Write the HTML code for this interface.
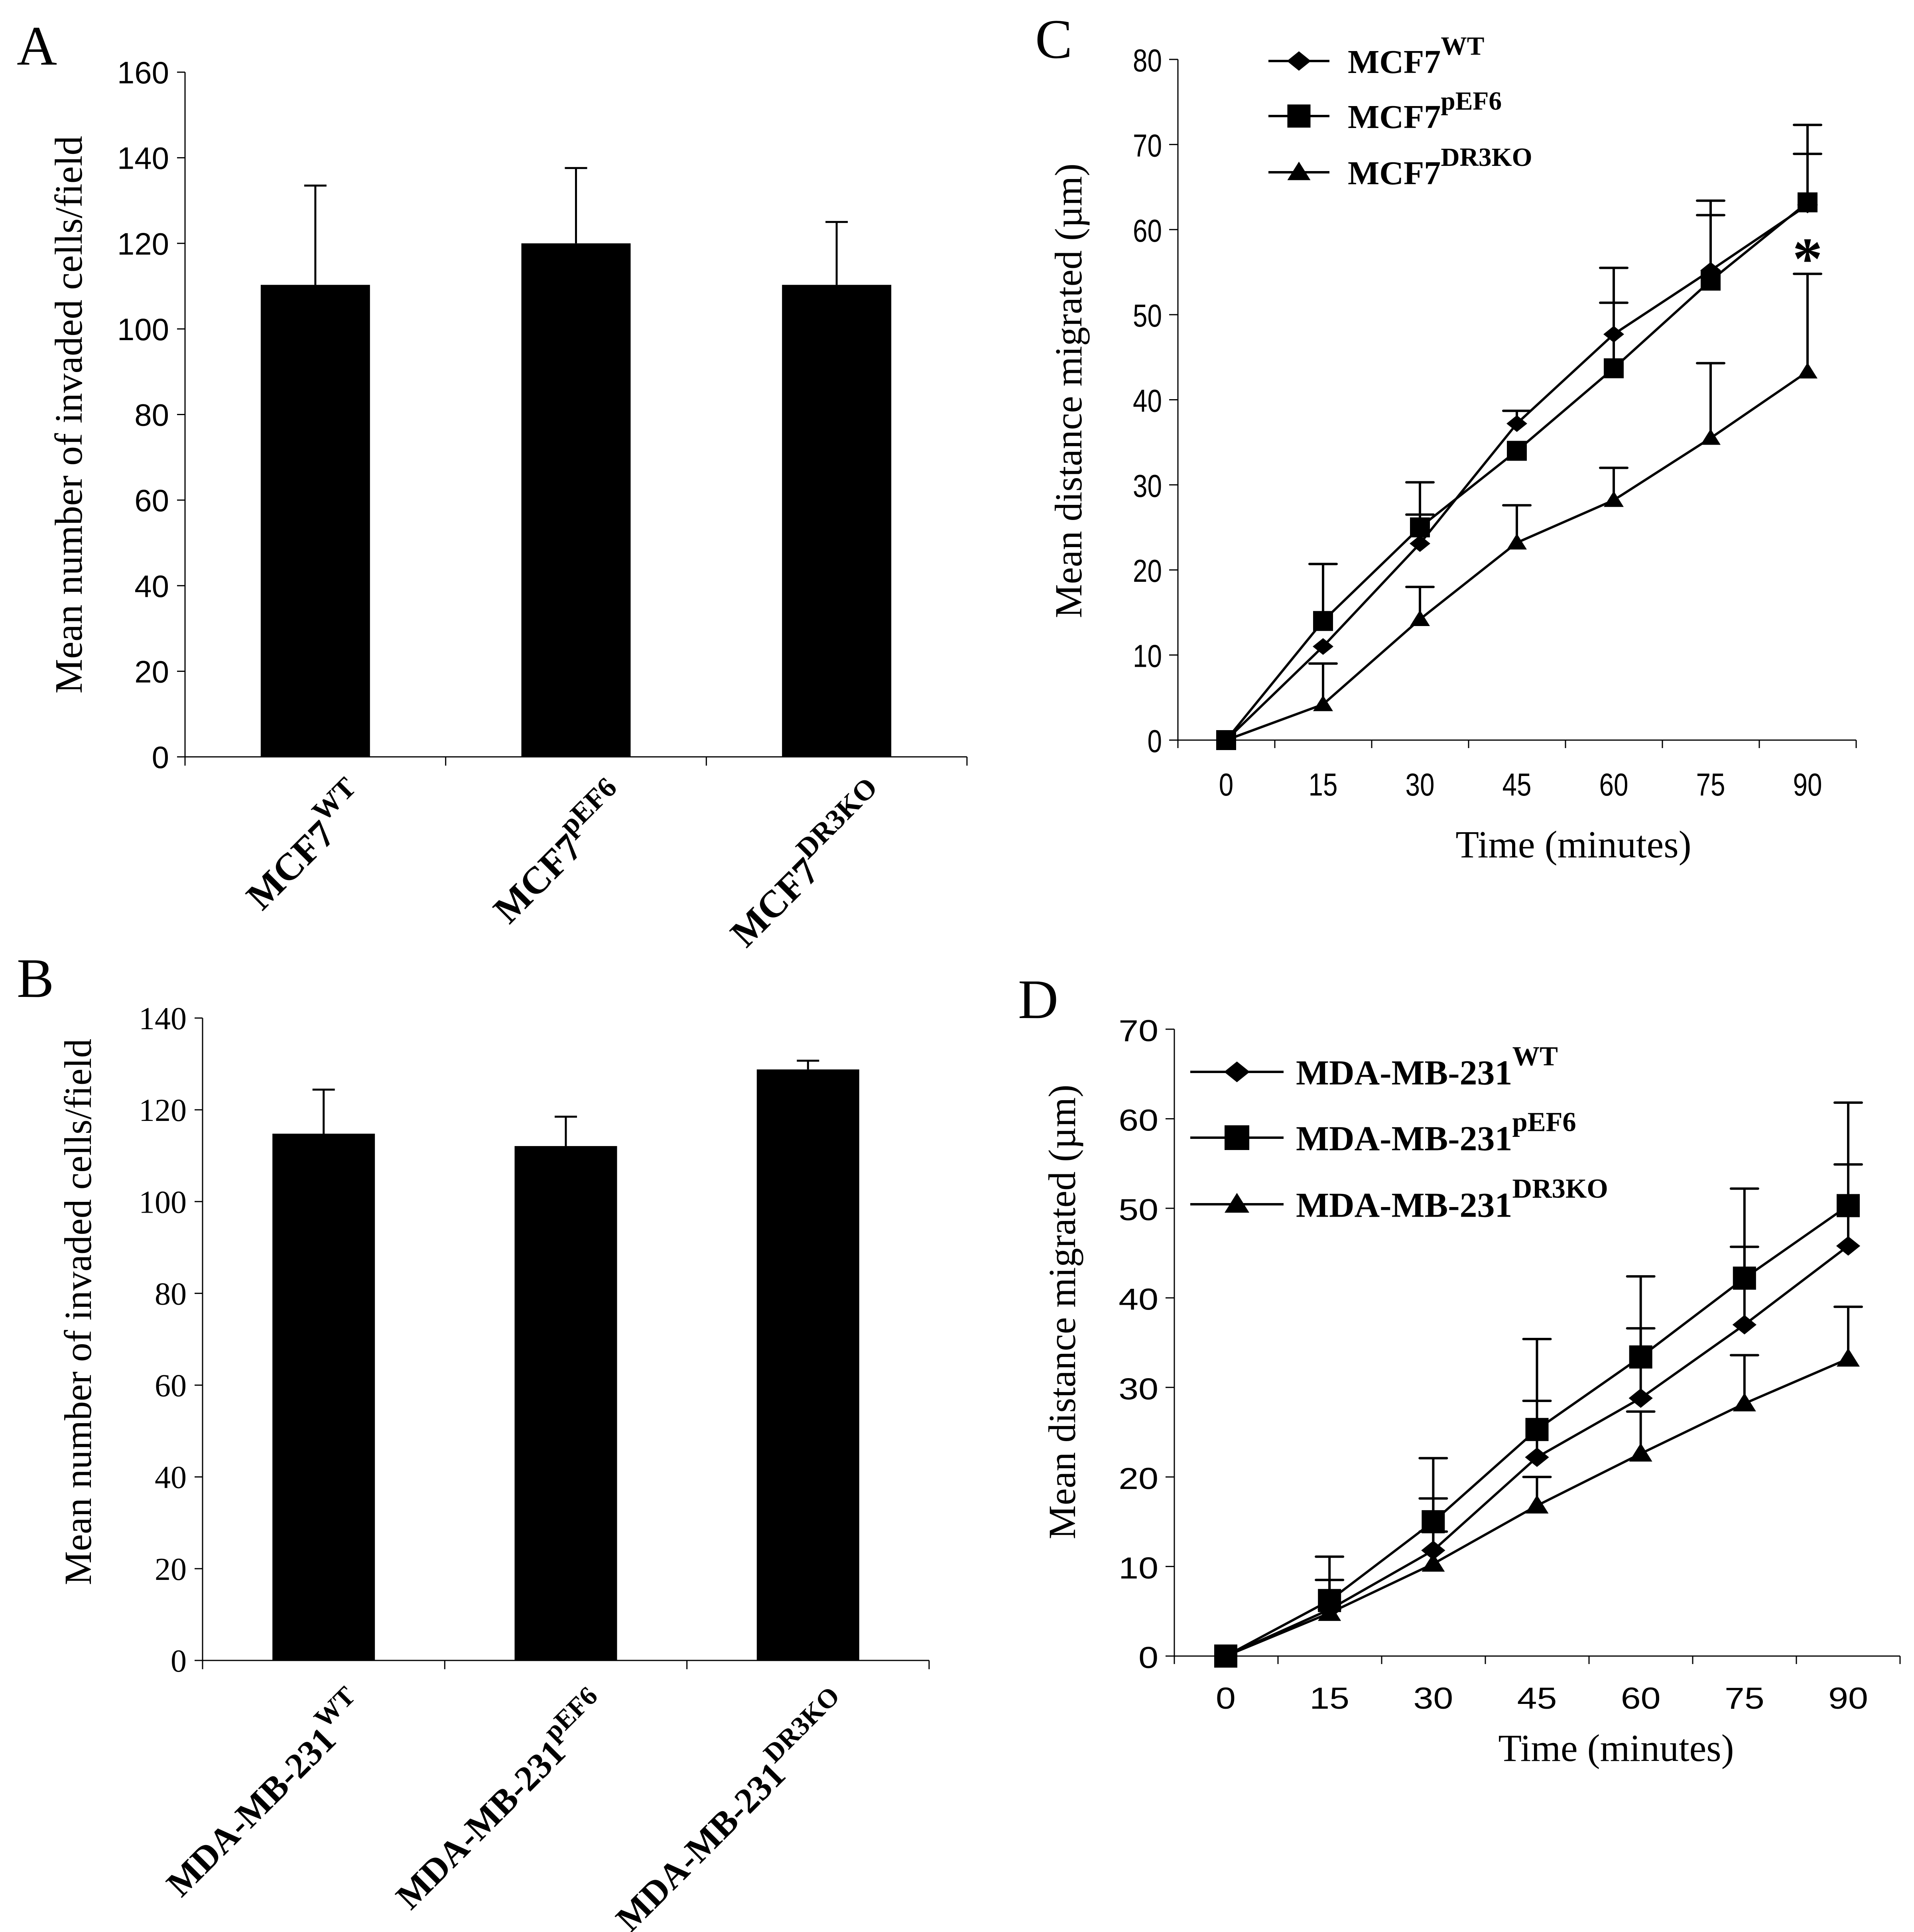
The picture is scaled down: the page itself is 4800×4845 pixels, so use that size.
<!DOCTYPE html>
<html><head><meta charset="utf-8"><style>
html,body{margin:0;padding:0;background:#fff}
svg{display:block}
.serif{font-family:"Liberation Serif",serif}
.sans{font-family:"Liberation Sans",sans-serif}
</style></head>
<body>
<svg id="fig" width="4800" height="4845" viewBox="0 0 4800 4845" xmlns="http://www.w3.org/2000/svg">
<rect width="4800" height="4845" fill="#fff"/>
<g id="root"></g>
</svg>
<script>
// ---- Panel A data ----
const aCats = ["WT","pEF6","DR3KO"];
const aVals = [110.3, 120, 110.3];
const aErr = [133.5, 137.6, 125];
const aTicks = [0,20,40,60,80,100,120,140,160];
// ---- Panel B data ----
const bCats = ["WT","pEF6","DR3KO"];
const bVals = [114.8, 112.1, 128.8];
const bErr = [124.4, 118.5, 130.7];
const bTicks = [0,20,40,60,80,100,120,140];
// ---- Panel C data ----
const cTimes = [0,15,30,45,60,75,90];
const cTicks = [0,10,20,30,40,50,60,70,80];
const cWT = [0,11,23.1,37.2,47.7,55.2,62.9];
const cWTerr = [null,null,26.5,38.7,55.5,63.4,72.3];
const cPEF = [0,14,25,34,43.7,54,63.2];
const cPEFerr = [null,20.7,30.3,null,51.4,61.7,68.9];
const cDR = [0,4.2,14.2,23.2,28.2,35.5,43.3];
const cDRerr = [null,9,18,27.6,32,44.3,54.8];
// ---- Panel D data ----
const dTimes = [0,15,30,45,60,75,90];
const dTicks = [0,10,20,30,40,50,60,70];
const dWT = [0,5.2,11.8,22.2,28.8,37,45.8];
const dWTerr = [null,8.5,17.6,28.5,36.6,45.7,54.9];
const dPEF = [0,6.2,15,25.3,33.4,42.2,50.3];
const dPEFerr = [null,11.1,22.1,35.4,42.4,52.2,61.8];
const dDR = [0,4.8,10.3,16.8,22.6,28.2,33.2];
const dDRerr = [null,null,13.9,20,27.3,33.6,39];

const NS="http://www.w3.org/2000/svg";
const root=document.getElementById('root');
function el(tag,attrs,parent){const e=document.createElementNS(NS,tag);for(const k in attrs)e.setAttribute(k,attrs[k]);(parent||root).appendChild(e);return e;}
function line(x1,y1,x2,y2,w,p){return el('line',{x1,y1,x2,y2,stroke:'#000','stroke-width':w,'stroke-linecap':'butt'},p);}

// ---------- Bar panels ----------
function barPanel(o){
  const g=el('g',{});
  
  
  const y=v=>o.y0-(v/o.ymax)*(o.y0-o.ytop);
  const L=el('text',{x:o.lx,y:o.ly,'font-size':140,class:'serif'},g);L.textContent=o.letter;
  
  line(o.ax,o.ytop,o.ax,o.y0,3,g);
  line(o.ax-18,o.y0,o.xend,o.y0,3,g);
  o.ticks.forEach(t=>{
    line(o.ax-20,y(t),o.ax,y(t),3,g);
    const tx=el('text',{x:o.ax-40,y:y(t)+28,'text-anchor':'end','font-size':o.tickSize,class:o.tickFont},g);
    tx.textContent=t;
    
    
  });
  const n=o.cats.length, cw=(o.xend-o.ax)/n;
  for(let i=0;i<=n;i++){line(o.ax+i*cw,o.y0,o.ax+i*cw,o.y0+22,3,g);}
  o.cats.forEach((c,i)=>{
    const cx=o.ax+cw*(i+0.5);
    const bw=o.bw;
    const r=el('rect',{x:cx-bw/2,y:y(o.vals[i]),width:bw,height:o.y0-y(o.vals[i]),fill:'#000'},g);
    
    
    line(cx,y(o.err[i]),cx,y(o.vals[i]),5,g);
    const cap=line(cx-28,y(o.err[i]),cx+28,y(o.err[i]),5,g);
    
    
    const ax=cx+o.lblDx, ay=o.y0+o.lblDy;
    const t=el('text',{x:ax,y:ay,'text-anchor':'end','font-size':o.lblSize,'font-weight':'bold',class:'serif',transform:`rotate(-45 ${ax} ${ay})`},g);
    
    
    const t1=el('tspan',{},t);t1.textContent=o.prefix;
    const t2=el('tspan',{dy:-o.lblSize*0.5,'font-size':o.lblSize*0.75},t);t2.textContent=c;
  });
  const yt=el('text',{x:o.ytx,y:o.yty,'text-anchor':'middle','font-size':o.ytSize,class:'serif',transform:`rotate(-90 ${o.ytx} ${o.yty})`},g);
  yt.textContent='Mean number of invaded cells/field';
  
  
}
barPanel({name:'panel-a',letter:'A',lx:42,ly:162,ax:464,ytop:181,y0:1898,xend:2425,ymax:160,ticks:aTicks,cats:aCats,vals:aVals,err:aErr,bw:274,
  tickSize:78,tickFont:'sans',prefix:'MCF7',lblSize:96,lblDx:140,lblDy:115,ytx:205,yty:1040,ytSize:98});
barPanel({name:'panel-b',letter:'B',lx:42,ly:2500,ax:508,ytop:2553,y0:4164,xend:2330,ymax:140,ticks:bTicks,cats:bCats,vals:bVals,err:bErr,bw:257,
  tickSize:80,tickFont:'serif',prefix:'MDA-MB-231',lblSize:90,lblDx:115,lblDy:125,ytx:228,yty:3290,ytSize:96});

// ---------- Line panels ----------
function marker(type,x,y,s,g){
  let m;
  if(type==='sq') m=el('rect',{x:x-s/2,y:y-s/2,width:s,height:s,fill:'#000'},g);
  else if(type==='di') m=el('polygon',{points:`${x-s*0.52},${y} ${x},${y-s*0.42} ${x+s*0.52},${y} ${x},${y+s*0.42}`,fill:'#000'},g);
  else m=el('polygon',{points:`${x-s*0.5},${y+s*0.34} ${x},${y-s*0.46} ${x+s*0.5},${y+s*0.34}`,fill:'#000'},g);
  return m;
}
function linePanel(o){
  const g=el('g',{});
  
  
  const y=v=>o.y0-(v/o.ymax)*(o.y0-o.ytop);
  const x=t=>o.x0+(t/90)*(o.x90-o.x0);
  const L=el('text',{x:o.lx,y:o.ly,'font-size':140,class:'serif'},g);L.textContent=o.letter;
  
  line(o.ax,o.ytop,o.ax,o.y0,3,g);
  line(o.ax,o.y0,o.xend,o.y0,3,g);
  o.ticks.forEach(t=>{
    line(o.ax-22,y(t),o.ax,y(t),3,g);
    const tx=el('text',{x:o.ax-40,y:y(t)+30,'text-anchor':'end','font-size':o.tickSize,class:'sans',transform:`translate(${o.ax-40} 0) scale(${o.cond} 1) translate(${-(o.ax-40)} 0)`},g);
    tx.textContent=t;
    
    
  });
  for(let i=0;i<=7;i++){const xx=o.ax+i*(o.xend-o.ax)/7;line(xx,o.y0,xx,o.y0+20,3,g);}
  o.times.forEach(t=>{
    const tx=el('text',{x:x(t),y:o.xly,'text-anchor':'middle','font-size':o.tickSize,class:'sans',transform:`translate(${x(t)} 0) scale(${o.cond} 1) translate(${-x(t)} 0)`},g);
    tx.textContent=t;
    
    
  });
  const xt=el('text',{x:o.xtx,y:o.xty,'text-anchor':'middle','font-size':96,class:'serif'},g);
  xt.textContent='Time (minutes)';
  
  
  const yt=el('text',{x:o.ytx,y:o.yty,'text-anchor':'middle','font-size':o.ytSize,class:'serif',transform:`rotate(-90 ${o.ytx} ${o.yty})`},g);
  yt.textContent='Mean distance migrated (\u00b5m)';
  
  
  o.series.forEach(s=>{
    const sg=el('g',{},g);
    
    
    s.err.forEach((e,i)=>{ if(e==null)return;
      const xx=x(o.times[i]);
      line(xx,y(e),xx,y(s.vals[i]),6,sg);
      const c=line(xx-34,y(e),xx+34,y(e),6,sg);
      c.setAttribute('stroke-linecap','round');
    });
    const pts=s.vals.map((v,i)=>x(o.times[i])+','+y(v)).join(' ');
    const pl=el('polyline',{points:pts,fill:'none',stroke:'#000','stroke-width':6},sg);
    
    
    s.vals.forEach((v,i)=>{
      const m=marker(s.type,x(o.times[i]),y(v),o.ms,sg);
      
      
    });
  });
  o.series.forEach((s,i)=>{
    const ly=o.legY[i];
    const lg=el('g',{},g);
    
    
    line(o.legX1,ly,o.legX2,ly,6,lg);
    marker(s.type,(o.legX1+o.legX2)/2,ly,o.legMs,lg);
    const t=el('text',{x:o.legTx,y:ly+o.legTs*0.36,'font-size':o.legTs,'font-weight':'bold',class:'serif'},lg);
    const a=el('tspan',{},t);a.textContent=o.prefix;
    const b=el('tspan',{dy:-o.legTs*0.55,'font-size':o.legTs*0.78},t);b.textContent=s.label;
  });
  if(o.star){
    const st=el('text',{x:x(90),y:y(o.star)+102,'text-anchor':'middle','font-size':150,'font-weight':'bold',class:'serif'},g);
    st.textContent='*';
    
    
  }
}
linePanel({name:'panel-c',letter:'C',lx:2596,ly:145,ax:2954,ytop:149,y0:1856,xend:4655,ymax:80,x0:3075,x90:4533,
  ticks:cTicks,times:cTimes,tickSize:80,cond:0.82,xly:1995,xtx:3946,xty:2150,ytx:2712,yty:980,ytSize:96,ms:50,legMs:58,
  prefix:'MCF7',legX1:3181,legX2:3334,legY:[153,291,432],legTx:3380,legTs:84,star:59,
  series:[{key:'wt',label:'WT',type:'di',vals:cWT,err:cWTerr},{key:'pef6',label:'pEF6',type:'sq',vals:cPEF,err:cPEFerr},{key:'dr3ko',label:'DR3KO',type:'tr',vals:cDR,err:cDRerr}]});
linePanel({name:'panel-d',letter:'D',lx:2553,ly:2553,ax:2945,ytop:2581,y0:4153,xend:4765,ymax:70,x0:3074,x90:4635,
  ticks:dTicks,times:dTimes,tickSize:76,cond:1.18,xly:4285,xtx:4053,xty:4416,ytx:2696,yty:3290,ytSize:96,ms:58,legMs:62,
  prefix:'MDA-MB-231',legX1:2985,legX2:3219,legY:[2688,2853,3020],legTx:3250,legTs:88,star:null,
  series:[{key:'wt',label:'WT',type:'di',vals:dWT,err:dWTerr},{key:'pef6',label:'pEF6',type:'sq',vals:dPEF,err:dPEFerr},{key:'dr3ko',label:'DR3KO',type:'tr',vals:dDR,err:dDRerr}]});
</script>
</body></html>
